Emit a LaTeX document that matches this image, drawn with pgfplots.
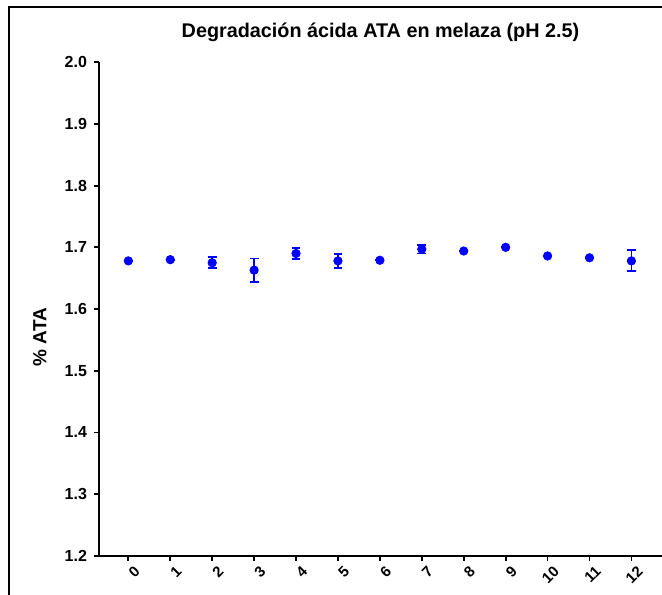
\documentclass[border=0pt]{standalone}
\usepackage{pgfplots}
\pgfplotsset{compat=1.18}
\usepackage{fontspec}
\setmainfont{Liberation Sans}
\definecolor{ptblue}{RGB}{0,0,255}
\begin{document}
\begin{tikzpicture}
\begin{axis}[
  name=ax,
  at={(0,0)}, anchor=south west,
  scale only axis,
  width=281.5pt, height=246.8pt,
  xmin=-0.7, xmax=12.73,
  ymin=1.2, ymax=2.0,
  axis x line*=bottom, axis y line*=left,
  axis line style={line width=1pt,-},
  xtick={0,1,...,12},
  ytick={1.2,1.3,...,2.0},
  tick align=outside,
  major tick length=2.5pt,
  tick style={line width=0.9pt,black},
  /pgf/number format/assume math mode=true,
  yticklabel style={font=\fontsize{8}{9}\selectfont\bfseries, /pgf/number format/fixed, /pgf/number format/fixed zerofill, /pgf/number format/precision=1},
  xticklabel style={font=\fontsize{7.5}{9}\selectfont\bfseries, rotate=45, anchor=north east, inner sep=1pt, xshift=1.5pt, yshift=-2pt},
  ylabel={\% ATA},
  ylabel style={font=\fontsize{9.5}{11}\selectfont\bfseries, at={(axis description cs:-0.105,0.443)}, anchor=center, rotate=0},
  title={Degradación ácida ATA en melaza (pH 2.5)},
  title style={font=\fontsize{9.9}{11}\selectfont\bfseries, at={(axis description cs:0.5,1.065)}, anchor=center, yshift=-7pt},
  clip=false,
]
\addplot[
  only marks, mark=*, mark size=2.1pt, color=ptblue,
  error bars/.cd, y dir=both, y explicit,
  error bar style={line width=0.9pt, ptblue},
  error mark options={rotate=90, mark size=2.2pt, line width=0.9pt, ptblue},
] table[x=x, y=y, y error=e] {
x y e
0 1.678 0
1 1.680 0
2 1.675 0.009
3 1.663 0.019
4 1.690 0.009
5 1.678 0.011
6 1.679 0
7 1.697 0.007
8 1.694 0
9 1.700 0
10 1.686 0
11 1.683 0
12 1.678 0.017
};
\end{axis}
\draw[line width=1pt] (-45pt,-30pt) -- (-45pt,274.4pt) -- (300pt,274.4pt);
\pgfresetboundingbox
\path (-49.5pt,-19.1pt) rectangle (281.5pt,277.9pt);
\end{tikzpicture}
\end{document}
